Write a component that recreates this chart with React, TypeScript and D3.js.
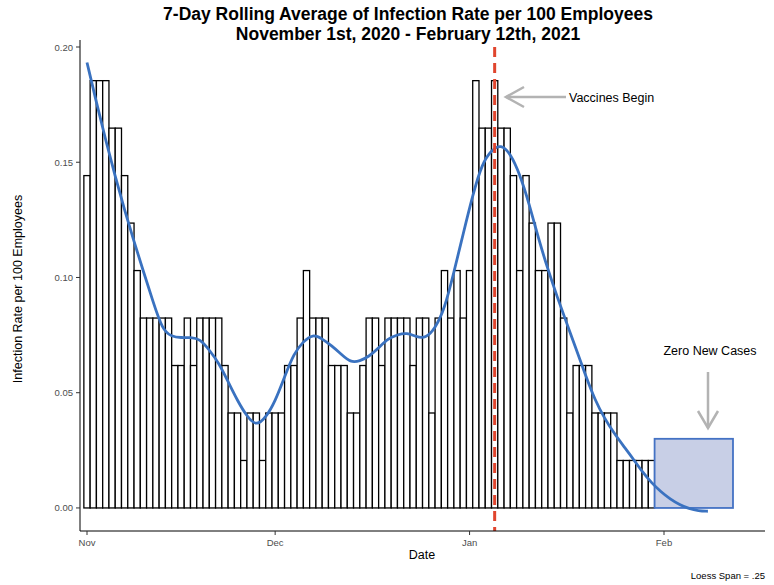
import * as d3 from "d3";

const UNIT = 0.0206;
// bar heights in units of one case per ~48.5 employees, Nov 1 2020 - Jan 30 2021
const levels = [
  7, 9, 9, 9, 8, 8, 7, 6, 5, 4, 4, 4, 4, 4, 3, 3, 4, 3, 4, 4, 4, 4, 3, 2, 2, 1, 2, 2, 1, 2,
  2, 2, 3, 3, 4, 5, 4, 4, 4, 3, 3, 3, 2, 2, 3, 4, 4, 3, 4, 4, 4, 4, 3, 4, 4, 2, 4, 5, 4, 5,
  4, 5, 9, 8, 8, 9, 8, 8, 7, 5, 7, 6, 5, 5, 6, 6, 4, 2, 3, 3, 3, 2, 2, 2, 2, 1, 1, 1, 1, 1, 1,
];
const zeroDays = 9; // Jan 31 - Feb 8 with no new cases
const start = new Date(2020, 10, 1);
const vaccineDate = new Date(2021, 0, 5);
const zeroBox = [new Date(2021, 0, 30, 12), new Date(2021, 1, 12)];
const tickDates = [new Date(2020, 10, 1), new Date(2020, 11, 1), new Date(2021, 0, 1), new Date(2021, 1, 1)];
const tickLabels = ["Nov", "Dec", "Jan", "Feb"];
const yTicks = [0, 0.05, 0.1, 0.15, 0.2];

const day = (i: number) => new Date(start.getTime() + i * 86400000);
const rates = levels.map((l) => l * UNIT);

function loess(xs: number[], ys: number[], span: number, grid: number[]) {
  const n = xs.length;
  const q = Math.floor(n * span);
  return grid.map((x0) => {
    const dists = xs.map((x) => Math.abs(x - x0));
    const dmax = [...dists].sort((a, b) => a - b)[q - 1] * 1.05;
    const S = Array.from({ length: 3 }, () => [0, 0, 0]);
    const B = [0, 0, 0];
    for (let i = 0; i < n; i++) {
      const u = dists[i] / dmax;
      if (u >= 1) continue;
      const w = Math.pow(1 - u * u * u, 3);
      const dx = xs[i] - x0;
      const v = [1, dx, dx * dx];
      for (let a = 0; a < 3; a++) {
        B[a] += w * v[a] * ys[i];
        for (let b = 0; b < 3; b++) S[a][b] += w * v[a] * v[b];
      }
    }
    const M = S.map((r, i) => [...r, B[i]]);
    for (let c = 0; c < 3; c++) {
      let p = c;
      for (let r = c + 1; r < 3; r++) if (Math.abs(M[r][c]) > Math.abs(M[p][c])) p = r;
      [M[c], M[p]] = [M[p], M[c]];
      for (let r = c + 1; r < 3; r++) {
        const f = M[r][c] / M[c][c];
        for (let k = c; k < 4; k++) M[r][k] -= f * M[c][k];
      }
    }
    const sol = [0, 0, 0];
    for (let r = 2; r >= 0; r--) {
      let s = M[r][3];
      for (let k = r + 1; k < 3; k++) s -= M[r][k] * sol[k];
      sol[r] = s / M[r][r];
    }
    return sol[0];
  });
}

export default function App() {
  const W = 774, H = 585;
  const x = d3.scaleTime().domain([day(0), new Date(2021, 1, 1)]).range([87, 664]);
  const y = d3.scaleLinear().domain([-0.01, 0.2]).range([531, 47]);
  const bw = x(day(1)) - x(day(0));

  const allY = [...rates, ...Array(zeroDays).fill(0)];
  const allX = allY.map((_, i) => i);
  const grid = d3.range(0, allY.length - 1 + 0.001, 1.5);
  const fit = loess(allX, allY, 0.25, grid);
  const line = d3
    .line<number>()
    .x((_, i) => x(day(grid[i])))
    .y((v) => y(v))
    .curve(d3.curveBasis);

  const font = "Liberation Sans, Arial, sans-serif";
  const gray = "#b3b3b3";
  return (
    <svg width={W} height={H} style={{ position: "absolute", left: 0, top: 0 }} fontFamily={font}>
      <rect width={W} height={H} fill="#fff" />
      <text x={408} y={20} textAnchor="middle" fontSize={17.5} fontWeight="bold">
        7-Day Rolling Average of Infection Rate per 100 Employees
      </text>
      <text x={408} y={40} textAnchor="middle" fontSize={17.5} fontWeight="bold">
        November 1st, 2020 - February 12th, 2021
      </text>

      {rates.map((r, i) => (
        <rect key={i} x={x(day(i)) - bw / 2} y={y(r)} width={bw} height={y(0) - y(r)}
          fill="#fff" stroke="#000" strokeWidth={1.3} />
      ))}

      <rect x={x(zeroBox[0])} y={y(0.03)} width={x(zeroBox[1]) - x(zeroBox[0])} height={y(0) - y(0.03)}
        fill="#c8cfe6" stroke="#4472c4" strokeWidth={1.8} />

      <path d={line(fit) || ""} fill="none" stroke="#3a72c0" strokeWidth={2.8} />

      <line x1={x(vaccineDate)} x2={x(vaccineDate)} y1={47} y2={531} stroke="#e0452e"
        strokeWidth={3} strokeDasharray="10,6" />

      <line x1={80} x2={80} y1={40} y2={531} stroke="#000" />
      <line x1={80} x2={765} y1={531} y2={531} stroke="#000" />
      {yTicks.map((t) => (
        <g key={t}>
          <line x1={76} x2={80} y1={y(t)} y2={y(t)} stroke="#333" />
          <text x={73} y={y(t) + 3.5} textAnchor="end" fontSize={9.5} fill="#4d4d4d">
            {t.toFixed(2)}
          </text>
        </g>
      ))}
      {tickDates.map((t, i) => (
        <g key={i}>
          <line x1={x(t)} x2={x(t)} y1={531} y2={535} stroke="#333" />
          <text x={x(t)} y={546} textAnchor="middle" fontSize={9.5} fill="#4d4d4d">
            {tickLabels[i]}
          </text>
        </g>
      ))}
      <text x={422} y={559} textAnchor="middle" fontSize={12.5}>Date</text>
      <text transform="translate(22,289) rotate(-90)" textAnchor="middle" fontSize={12.5}>
        Infection Rate per 100 Employees
      </text>
      <text x={765} y={579} textAnchor="end" fontSize={9.5}>Loess Span = .25</text>

      <text x={569} y={102} fontSize={12.5}>Vaccines Begin</text>
      <line x1={566} x2={506} y1={97} y2={97} stroke={gray} strokeWidth={2.5} />
      <polyline points="524,87 506,97 524,107" fill="none" stroke={gray} strokeWidth={2.5} />
      <text x={710} y={355} textAnchor="middle" fontSize={12.5}>Zero New Cases</text>
      <line x1={708} x2={708} y1={372} y2={428} stroke={gray} strokeWidth={2.5} />
      <polyline points="698,411 708,428 718,411" fill="none" stroke={gray} strokeWidth={2.5} />
    </svg>
  );
}
